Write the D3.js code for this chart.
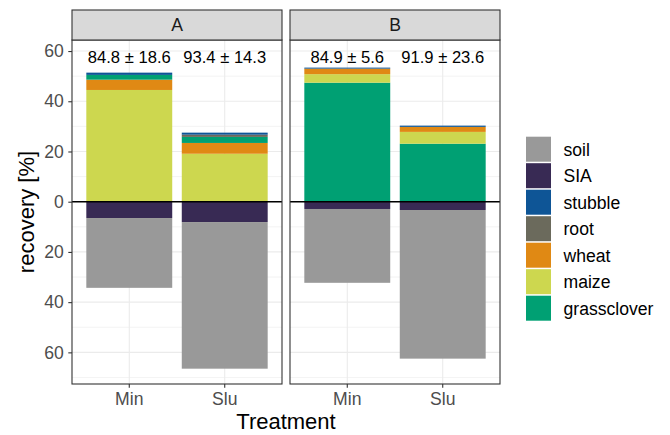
<!DOCTYPE html>
<html>
<head>
<meta charset="utf-8">
<script src="https://cdn.jsdelivr.net/npm/d3@7"></script>
<style>
  body { margin: 0; background: #fff; }
  svg { font-family: "Liberation Sans", Arial, sans-serif; }
</style>
</head>
<body>
<svg id="chart" width="670" height="435"></svg>
<script>
// data (one entry per bar: A-Min, A-Slu, B-Min, B-Slu)
const facets = ["A", "B"];
const treatments = ["Min", "Slu"];
const components = ["soil", "SIA", "stubble", "root", "wheat", "maize", "grassclover"];
const palette = ["#999999", "#382a54", "#0e5596", "#6b6a5c", "#e08914", "#cdd74f", "#00a073"];

const soil        = [-27.8, -58.4, -29.4, -59.2];
const SIA         = [-6.5, -8.1, -2.9, -3.3];
const stubble     = [0.9, 0.8, 0.4, 0.5];
const root        = [0, 0.9, 0, 0];
const wheat       = [4.1, 4.3, 2.2, 2.0];
const maize       = [44.5, 19.1, 3.4, 4.7];
const grassclover = [1.9, 2.4, 47.4, 23.1];

const labels = ["84.8 ± 18.6", "93.4 ± 14.3", "84.9 ± 5.6", "91.9 ± 23.6"];

// stacking order away from zero, per facet
const stackUp = {
    A: ["maize", "wheat", "grassclover", "root", "stubble"],
    B: ["grassclover", "maize", "wheat", "root", "stubble"]
};
const stackDown = ["SIA", "soil"];

const yTicks = [-60, -40, -20, 0, 20, 40, 60];
const yMinor = [-70, -50, -30, -10, 10, 30, 50];

const values = { soil, SIA, stubble, root, wheat, maize, grassclover };
const color = d3.scaleOrdinal().domain(components).range(palette);

const svg = d3.select("#chart");
const panelTop = 40, panelBottom = 384;
const panels = [{ key: "A", x0: 72, x1: 282 }, { key: "B", x0: 290, x1: 500 }];

const y = d3.scaleLinear().domain([-72.6, 64.4]).range([panelBottom, panelTop]);

panels.forEach((p, fi) => {
    const x = d3.scaleBand().domain(treatments).range([p.x0, p.x1])
        .paddingInner(0.1).paddingOuter(0.15);
    const g = svg.append("g");

    g.append("rect").attr("x", p.x0).attr("y", panelTop)
        .attr("width", p.x1 - p.x0).attr("height", panelBottom - panelTop)
        .attr("fill", "#fff");

    // grid
    g.selectAll(".minor").data(yMinor).join("line")
        .attr("x1", p.x0).attr("x2", p.x1)
        .attr("y1", d => y(d)).attr("y2", d => y(d))
        .attr("stroke", "#ebebeb").attr("stroke-width", 0.6);
    g.selectAll(".major").data(yTicks).join("line")
        .attr("x1", p.x0).attr("x2", p.x1)
        .attr("y1", d => y(d)).attr("y2", d => y(d))
        .attr("stroke", "#ebebeb").attr("stroke-width", 1.1);
    g.selectAll(".vmajor").data(treatments).join("line")
        .attr("x1", d => x(d) + x.bandwidth() / 2).attr("x2", d => x(d) + x.bandwidth() / 2)
        .attr("y1", panelTop).attr("y2", panelBottom)
        .attr("stroke", "#ebebeb").attr("stroke-width", 1.1);

    // build stacked segments
    const segs = [];
    treatments.forEach((t, ti) => {
        const bi = fi * 2 + ti;
        let top = 0;
        stackUp[p.key].forEach(c => {
            const v = values[c][bi];
            if (v > 0) segs.push({ t, c, y0: top, y1: top + v });
            top += v;
        });
        let bot = 0;
        stackDown.forEach(c => {
            const v = values[c][bi];
            segs.push({ t, c, y0: bot + v, y1: bot });
            bot += v;
        });
    });

    g.selectAll(".seg").data(segs).join("rect")
        .attr("x", d => x(d.t))
        .attr("width", x.bandwidth())
        .attr("y", d => y(d.y1))
        .attr("height", d => y(d.y0) - y(d.y1))
        .attr("fill", d => color(d.c));

    // zero line
    g.append("line").attr("x1", p.x0).attr("x2", p.x1)
        .attr("y1", y(0)).attr("y2", y(0))
        .attr("stroke", "#000").attr("stroke-width", 1.4);

    // labels
    g.selectAll(".lab").data(treatments).join("text")
        .attr("x", d => x(d) + x.bandwidth() / 2)
        .attr("y", y(57.5) + 5.9)
        .attr("text-anchor", "middle")
        .attr("font-size", 16.6).attr("fill", "#000")
        .text((d, i) => labels[fi * 2 + i]);

    // border
    g.append("rect").attr("x", p.x0).attr("y", panelTop)
        .attr("width", p.x1 - p.x0).attr("height", panelBottom - panelTop)
        .attr("fill", "none").attr("stroke", "#333").attr("stroke-width", 1.1);

    // strip
    g.append("rect").attr("x", p.x0).attr("y", 10)
        .attr("width", p.x1 - p.x0).attr("height", panelTop - 10)
        .attr("fill", "#d9d9d9").attr("stroke", "#333").attr("stroke-width", 1.1);
    g.append("text").attr("x", (p.x0 + p.x1) / 2).attr("y", 25 + 6.3)
        .attr("text-anchor", "middle").attr("font-size", 17.6).attr("fill", "#1a1a1a")
        .text(p.key);

    // x axis
    const xa = g.append("g").attr("transform", `translate(0,${panelBottom})`)
        .call(d3.axisBottom(x).tickSize(3.7).tickPadding(5));
    xa.select(".domain").remove();
    xa.selectAll(".tick line").attr("stroke", "#333").attr("stroke-width", 1.1);
    xa.selectAll(".tick text").attr("font-size", 17.6).attr("fill", "#4d4d4d")
        .attr("font-family", "Liberation Sans, Arial, sans-serif");

    if (fi === 0) {
        const ya = g.append("g").attr("transform", `translate(${p.x0},0)`)
            .call(d3.axisLeft(y).tickValues(yTicks).tickSize(3.7).tickPadding(4.5)
                .tickFormat(d => Math.abs(d)));
        ya.select(".domain").remove();
        ya.selectAll(".tick line").attr("stroke", "#333").attr("stroke-width", 1.1);
        ya.selectAll(".tick text").attr("font-size", 17.6).attr("fill", "#4d4d4d")
            .attr("font-family", "Liberation Sans, Arial, sans-serif");
    }
});

// axis titles
svg.append("text").attr("x", 286).attr("y", 429)
    .attr("text-anchor", "middle").attr("font-size", 22).text("Treatment");
svg.append("text")
    .attr("transform", `translate(34,${(panelTop + panelBottom) / 2}) rotate(-90)`)
    .attr("text-anchor", "middle").attr("font-size", 22).text("recovery [%]");

// legend
const legend = svg.append("g").attr("transform", "translate(526,136.7)");
const items = legend.selectAll("g").data(components).join("g")
    .attr("transform", (d, i) => `translate(0,${i * 26.5})`);
items.append("rect").attr("width", 25).attr("height", 25)
    .attr("fill", d => color(d));
items.append("text").attr("x", 37.5).attr("y", 12.5 + 6.5)
    .attr("font-size", 17.6).attr("fill", "#000").text(d => d);
</script>
</body>
</html>
